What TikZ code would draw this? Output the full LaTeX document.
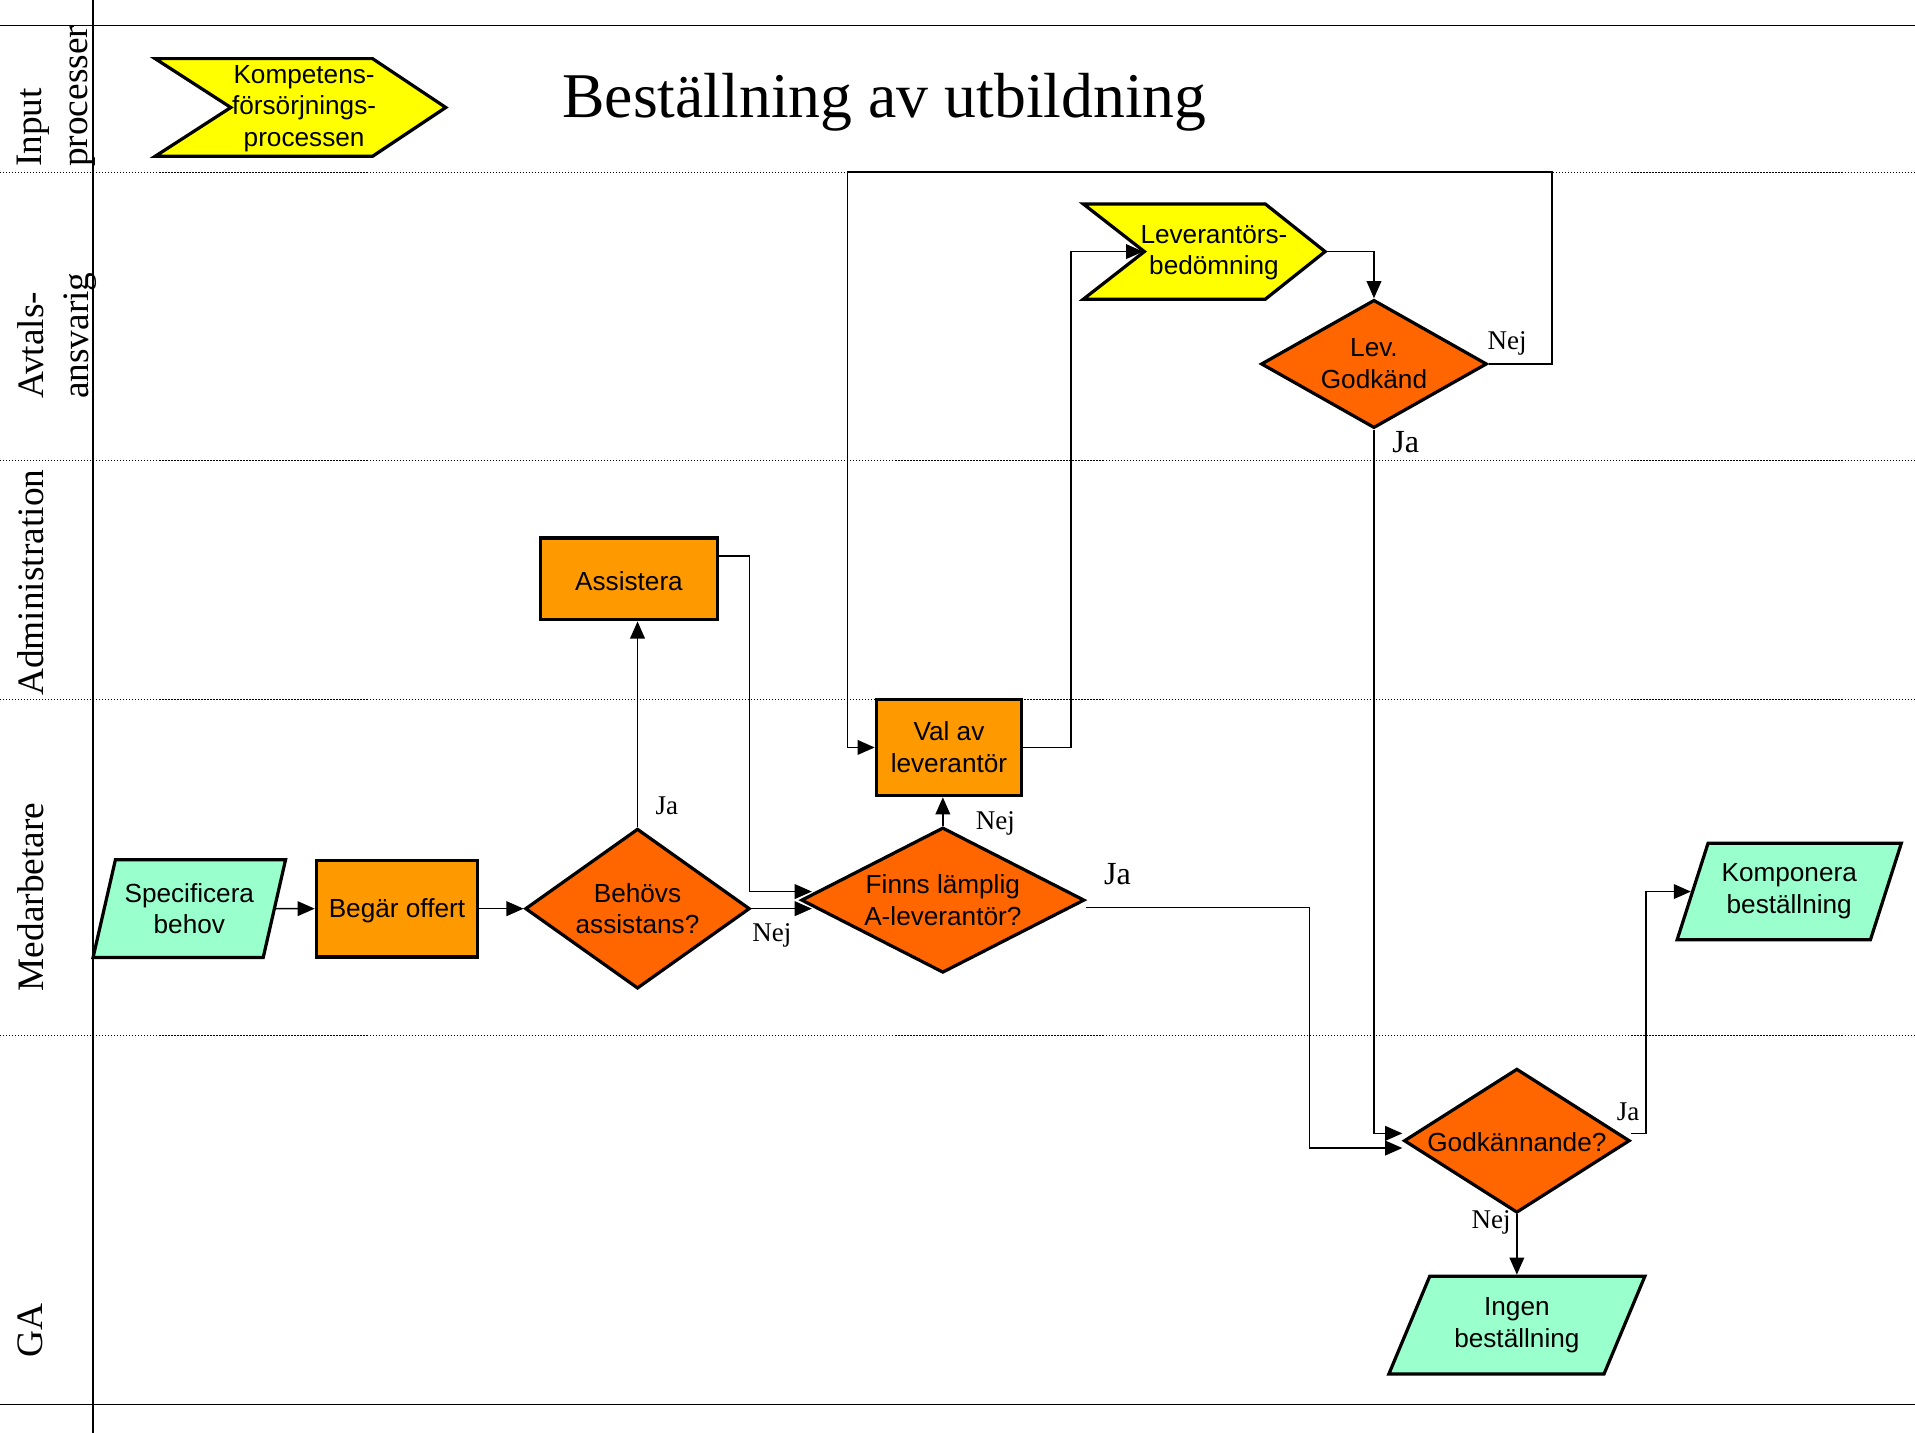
\documentclass[tikz,border=0pt]{standalone}
\usepackage{fontspec}
\setmainfont{Liberation Serif}
\newfontfamily\arial{Liberation Sans}
\usetikzlibrary{shapes.geometric,arrows.meta}
\definecolor{orangebox}{HTML}{FF9900}
\definecolor{orangedec}{HTML}{FF6600}
\definecolor{mint}{HTML}{99FFCC}
\definecolor{chevyellow}{HTML}{FFFF00}

\begin{document}
\begin{tikzpicture}[x=0.02cm,y=-0.02cm,
  >={Triangle[length=0.28cm,width=0.24cm]},
  every node/.style={inner sep=0pt},
  txt/.style={font=\arial\fontsize{12.2}{14.8}\selectfont,align=center,
    execute at begin node={\rule{0pt}{10.6pt}}},
  box/.style={txt,rectangle,draw,line width=1.5pt,fill=orangebox},
  decision/.style={txt,diamond,draw,line width=1.5pt,fill=orangedec},
  io/.style={txt,trapezium,trapezium stretches=true,draw,line width=1.5pt,fill=mint},
  chev/.style={draw,line width=1.5pt,fill=chevyellow,line join=miter},
  flow/.style={->,line width=0.75pt},
  lbl/.style={font=\fontsize{12.6}{14}\selectfont},
  biglbl/.style={font=\fontsize{15}{17}\selectfont},
  lane/.style={font=\fontsize{17.4}{21}\selectfont,rotate=90,anchor=north west,align=left},
  sep/.style={line width=0.5pt,dash pattern=on 0.6pt off 0.8pt}]
\useasboundingbox (0,0) rectangle (1568,1173);

% swimlanes
\draw[line width=0.7pt] (0,21) -- (1568,21);
\draw[line width=0.7pt] (0,1150) -- (1568,1150);
\draw[line width=0.7pt] (76,0) -- (76,1173);
\foreach \y in {141,377,573,848}
  \draw[sep] (0,\y) -- (1568,\y);
\draw (14,137) node[lane] (lInput) {Input\\processer};
\draw (14,327) node[lane] (lAvtal) {Avtals-\\ansvarig};
\draw (14,570) node[lane] (lAdmin) {Administration};
\draw (14,812) node[lane] (lMedarb) {Medarbetare};
\draw (14,1112) node[lane] (lGA) {GA};

\draw (460,96) node[anchor=base west,font=\fontsize{29.7}{34}\selectfont] (title) {Beställning av utbildning};

% process arrows (chevrons)
\draw[chev] (127,48) -- (305,48) -- (365,88) -- (305,128) -- (127,128) -- (189,88) -- cycle;
\draw (249,89) node[txt] (kompetens) {Kompetens-\\försörjnings-\\processen};
\draw[chev] (887,167) -- (1036,167) -- (1085,206) -- (1036,245) -- (887,245) -- (937,206) -- cycle;
\draw (994,207) node[txt] (levbed) {Leverantörs-\\bedömning};
\coordinate (levin) at (936,206);
\coordinate (levout) at (1085,206);

% steps
\draw (155,744) node[io,trapezium left angle=69,trapezium right angle=111,minimum width=3.16cm,minimum height=1.6cm] (spec) {Specificera\\behov};
\draw (325,744) node[box,minimum width=2.64cm,minimum height=1.58cm] (begar) {Begär offert};
\draw (522,744) node[decision,aspect=1.4,minimum width=3.68cm,minimum height=2.62cm] (behovs) {Behövs\\assistans?};
\draw (515,474) node[box,minimum width=2.9cm,minimum height=1.34cm] (assist) {Assistera};
\draw (772,737) node[decision,aspect=2,minimum width=4.64cm,minimum height=2.38cm] (finns) {Finns lämplig\\A-leverantör?};
\draw (777,612) node[box,minimum width=2.38cm,minimum height=1.58cm] (val) {Val av\\leverantör};
\draw (1125,298) node[decision,aspect=1.76,minimum width=3.7cm,minimum height=2.1cm] (levgod) {Lev.\\Godkänd};
\draw (1242,934) node[decision,aspect=1.57,minimum width=3.7cm,minimum height=2.36cm] (godk) {Godkännande?};
\draw (1465,730) node[io,trapezium left angle=65,trapezium right angle=115,minimum width=3.7cm,minimum height=1.58cm] (kompon) {Komponera\\beställning};
\draw (1242,1085) node[io,trapezium left angle=62,trapezium right angle=118,minimum width=4.22cm,minimum height=1.6cm] (ingen) {Ingen\\beställning};

% flow
\draw[flow] (spec.east) -- (begar.west);
\draw[flow] (begar.east) -- (behovs.west);
\draw[flow] (behovs.north) -- (behovs.north |- assist.south);
\draw[flow,shorten >=-0.2cm] (behovs.east) -- (behovs.east -| finns.west);
\draw[flow,shorten >=-0.2cm] ([yshift=0.38cm]assist.east) -- ++(25,0) |- ([yshift=0.14cm]finns.west);
\draw[flow] (finns.north) -- (finns.north |- val.south);
\draw[flow] ([yshift=-0.12cm]finns.east) -- ++(183,0) |- ([yshift=-0.12cm]godk.west);
\draw[flow] (val.east) -- ++(39,0) |- (levin);
\draw[flow] (levout) -| (levgod.north);
\draw[flow] (levgod.east) -- ++(52,0) |- ++(-577,-157) |- (val.west);
\draw[flow] (levgod.south) |- ([yshift=0.12cm]godk.west);
\draw[flow] ([yshift=0.12cm]godk.east) -- ++(12,0) |- (kompon.west);
\draw[flow] (godk.south) -- (godk.south |- ingen.north);

% answers
\draw (546,660) node[lbl] (jaAssist) {Ja};
\draw (632,766) node[lbl] (nejFinns) {Nej};
\draw (815,674) node[lbl] (nejVal) {Nej};
\draw (915,716) node[biglbl] (jaFinns) {Ja};
\draw (1234,281) node[lbl] (nejLev) {Nej};
\draw (1151,362) node[biglbl] (jaLev) {Ja};
\draw (1333,910) node[lbl] (jaKompon) {Ja};
\draw (1221,1001) node[lbl] (nejIngen) {Nej};
\end{tikzpicture}
\end{document}
